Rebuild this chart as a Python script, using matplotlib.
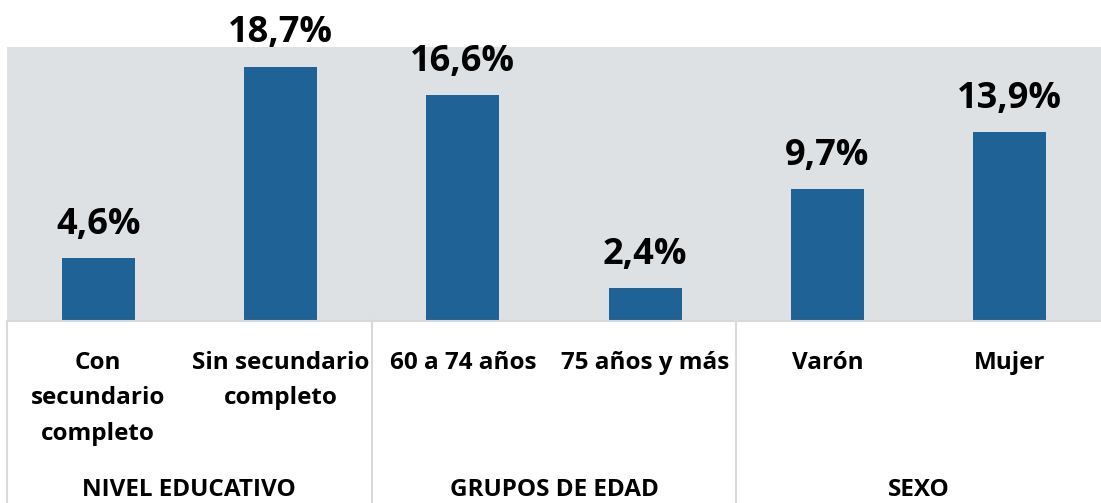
import matplotlib
matplotlib.use('Agg')
import matplotlib.pyplot as plt

# datos
categorias = ['Con\nsecundario\ncompleto', 'Sin secundario\ncompleto',
              '60 a 74 años', '75 años y más', 'Varón', 'Mujer']
valores = [4.6, 18.7, 16.6, 2.4, 9.7, 13.9]
etiquetas = ['4,6%', '18,7%', '16,6%', '2,4%', '9,7%', '13,9%']
grupos = ['NIVEL EDUCATIVO', 'GRUPOS DE EDAD', 'SEXO']

plt.rcParams['font.family'] = ['Open Sans', 'DejaVu Sans']

W, H = 1101, 503
fig = plt.figure(figsize=(W / 100, H / 100), dpi=100)
ax = fig.add_axes([7 / W, (H - 321) / H, (W - 7) / W, 274 / H])
ax.set_facecolor('#DEE1E4')

x = list(range(len(valores)))
ax.bar(x, valores, width=0.4, color='#1F6295', zorder=2)
ax.set_xlim(-0.5, len(valores) - 0.5)
ax.set_ylim(0, 20.15)

for xi, v, t in zip(x, valores, etiquetas):
    ax.annotate(t, (xi, v), xytext=(0, 11), textcoords='offset points',
                ha='center', va='bottom', fontsize=26, fontweight='bold')

for s in ['top', 'right', 'left']:
    ax.spines[s].set_visible(False)
ax.spines['bottom'].set_color('#D9D9D9')
ax.spines['bottom'].set_linewidth(1.5)
ax.set_xticks([])
ax.set_yticks([])

trans = ax.get_xaxis_transform()
# etiquetas de categorias
for xi, c in zip(x, categorias):
    ax.text(xi, -0.11, c, transform=trans, ha='center', va='top',
            fontsize=17.5, fontweight='bold', linespacing=1.63)

# separadores y grupos
for i, g in enumerate(grupos):
    ax.plot([2 * i - 0.5, 2 * i - 0.5], [0, -0.7], transform=trans,
            color='#D9D9D9', lw=1.5, clip_on=False)
    ax.text(2 * i + 0.5, -0.615, g, transform=trans, ha='center', va='center',
            fontsize=17.5, fontweight='bold')

fig.savefig('out.png', dpi=100)
